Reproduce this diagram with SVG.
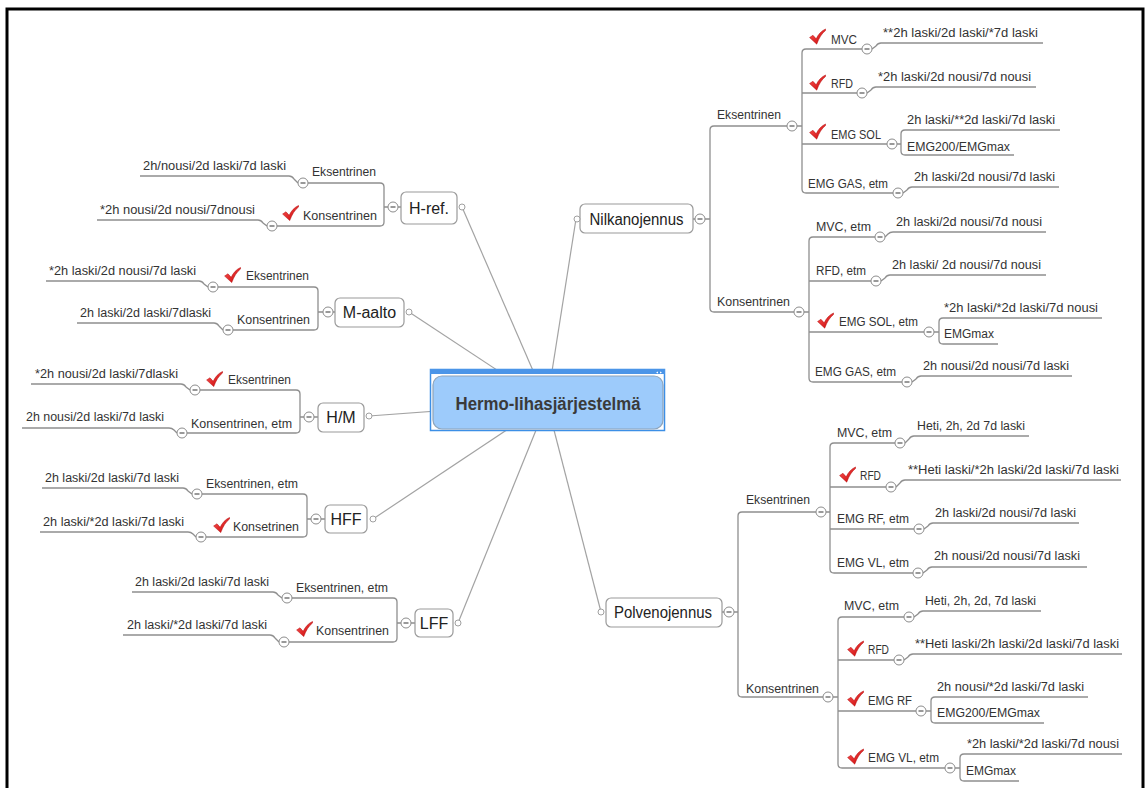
<svg xmlns="http://www.w3.org/2000/svg" width="1147" height="788" viewBox="0 0 1147 788">
<style>
.t{font-family:"Liberation Sans",Arial,sans-serif;font-size:12.5px;fill:#333}
.tm{font-family:"Liberation Sans",Arial,sans-serif;font-size:16px;fill:#222;text-anchor:middle}
.tc{font-family:"Liberation Sans",Arial,sans-serif;font-size:18px;font-weight:bold;fill:#3a3a3a;text-anchor:middle}
.ln{fill:none;stroke:#a3a3a3;stroke-width:1.2}
.ul{fill:none;stroke:#8f8f8f;stroke-width:1.3}
.box{fill:#fff;stroke:#9a9a9a;stroke-width:1.2}
.dot{fill:#fff;stroke:#a0a0a0;stroke-width:1}
</style>
<defs>
<linearGradient id="rg" x1="0" y1="0" x2="1" y2="1"><stop offset="0" stop-color="#ff5a5a"/><stop offset="1" stop-color="#c40000"/></linearGradient>
<symbol id="ck" viewBox="0 0 18 17"><path d="M0.6,9.6 L4.2,7.2 L7.6,11 C9.6,6.4 13,2.6 17.5,0.5 L17.5,2.2 C13.6,5.2 10.6,10 8.2,16.6 Z" fill="url(#rg)" stroke="#b00000" stroke-width="0.5"/></symbol>
<g id="mn"><circle r="5" fill="#fff" stroke="#8c8c8c" stroke-width="1"/><line x1="-2.5" y1="0" x2="2.5" y2="0" stroke="#555" stroke-width="1.2"/></g>
</defs>
<rect x="0" y="0" width="1147" height="788" fill="#fff"/>
<rect x="7" y="9" width="1136" height="800" fill="none" stroke="#000" stroke-width="3"/>

<g id="connectors">
<line class="ln" x1="462" y1="207" x2="547" y2="403"/>
<line class="ln" x1="409" y1="312" x2="547" y2="403"/>
<line class="ln" x1="369" y1="416" x2="547" y2="403"/>
<line class="ln" x1="373" y1="519" x2="547" y2="403"/>
<line class="ln" x1="458" y1="623" x2="547" y2="403"/>
<line class="ln" x1="576" y1="219" x2="547" y2="403"/>
<line class="ln" x1="601" y1="612" x2="547" y2="403"/>
<path class="ul" d="M308,183 H380 Q384,183 384,187 V222 Q384,226 380,226 H277 M384,207 H388 M398,207 H401"/>
<path class="ul" d="M218,287 H314 Q318,287 318,291 V326 Q318,330 314,330 H233 M318,312 H323 M333,312 H335"/>
<path class="ul" d="M200,390 H296 Q300,390 300,394 V429 Q300,433 296,433 H187 M300,417 H304 M314,417 H318"/>
<path class="ul" d="M202,494 H303 Q307,494 307,498 V533 Q307,537 303,537 H206 M307,519 H311 M321,519 H325"/>
<path class="ul" d="M292,598 H393 Q397,598 397,602 V638 Q397,642 393,642 H289 M397,623 H401 M411,623 H415"/>
<path class="ul" d="M298,183 L294,179 Q292,176 289,176 H140"/>
<path class="ul" d="M267,226 L263,223 Q261,220 258,220 H97"/>
<path class="ul" d="M208,287 L204,284 Q202,281 199,281 H46"/>
<path class="ul" d="M223,330 L219,326 Q217,323 214,323 H77"/>
<path class="ul" d="M190,390 L186,387 Q184,384 181,384 H31"/>
<path class="ul" d="M177,433 L174,430 Q172,428 169,428 H22"/>
<path class="ul" d="M192,494 L188,491 Q186,488 183,488 H42"/>
<path class="ul" d="M196,537 L193,534 Q191,532 188,532 H40"/>
<path class="ul" d="M282,598 L278,595 Q276,592 273,592 H132"/>
<path class="ul" d="M279,642 L275,638 Q273,635 270,635 H123"/>
<path class="ul" d="M787,126 H714 Q710,126 710,130 V308 Q710,312 714,312 H794 M705,219 H710 M693,219 H695"/>
<path class="ul" d="M862,49 H806 Q802,49 802,53 V189 Q802,193 806,193 H893 M802,93 H857 M802,144 H887 M797,126 H802"/>
<path class="ul" d="M1060,130 H905 Q901,130 901,134 V151 Q901,155 905,155 H1014 M897,144 H901"/>
<path class="ul" d="M875,237 H813 Q809,237 809,241 V378 Q809,382 813,382 H902 M809,281 H871 M809,332 H924 M804,312 H809"/>
<path class="ul" d="M1102,318 H943 Q939,318 939,322 V340 Q939,344 943,344 H998 M934,332 H939"/>
<path class="ul" d="M872,49 L876,46 Q878,43 881,43 H1043"/>
<path class="ul" d="M867,93 L871,90 Q873,87 876,87 H1036"/>
<path class="ul" d="M903,193 L907,190 Q909,187 912,187 H1059"/>
<path class="ul" d="M885,237 L888,234 Q890,232 893,232 H1046"/>
<path class="ul" d="M881,281 L885,278 Q887,275 890,275 H1046"/>
<path class="ul" d="M912,382 L916,379 Q918,376 921,376 H1072"/>
<path class="ul" d="M816,512 H742 Q738,512 738,516 V693 Q738,697 742,697 H823 M734,612 H738 M722,612 H724"/>
<path class="ul" d="M895,443 H834 Q830,443 830,447 V569 Q830,573 834,573 H913 M830,487 H886 M830,529 H914 M826,512 H830"/>
<path class="ul" d="M904,617 H842 Q838,617 838,621 V764 Q838,768 842,768 H945 M838,660 H894 M838,711 H916 M833,697 H838"/>
<path class="ul" d="M1088,697 H935 Q931,697 931,701 V719 Q931,723 935,723 H1044 M926,711 H931"/>
<path class="ul" d="M1122,754 H964 Q960,754 960,758 V777 Q960,781 964,781 H1019 M955,768 H960"/>
<path class="ul" d="M905,443 L909,439 Q911,436 914,436 H1029"/>
<path class="ul" d="M896,487 L900,483 Q902,480 905,480 H1121"/>
<path class="ul" d="M924,529 L928,526 Q930,523 933,523 H1079"/>
<path class="ul" d="M923,573 L927,570 Q929,567 932,567 H1087"/>
<path class="ul" d="M914,617 L918,614 Q920,611 923,611 H1041"/>
<path class="ul" d="M904,660 L908,657 Q910,654 913,654 H1122"/>
</g>

<g id="center">
<rect x="430.5" y="369.5" width="234" height="61" fill="#fff" stroke="#3c8fe6" stroke-width="1.5"/>
<rect x="430" y="369" width="235" height="5" fill="#4b95e8"/>
<path d="M658,371.5 L656,372.5 L658,373.5 Z M660,371.5 L662,372.5 L660,373.5 Z" fill="#fff"/>
<rect x="433" y="376" width="230" height="53" rx="9" fill="#9dcbfb" stroke="#8ea4ba" stroke-width="1.2"/>
<text class="tc" x="548" y="410" textLength="185" lengthAdjust="spacingAndGlyphs">Hermo-lihasjärjestelmä</text>
</g>

<g id="href">
<rect class="box" x="401" y="192" width="56" height="32" rx="5"/>
<text class="tm" x="429" y="214">H-ref.</text>
<circle class="dot" cx="462" cy="207" r="3"/>
<use href="#mn" x="393" y="207"/>
</g>
<g id="href-eks"><text class="t" x="312" y="176" textLength="64" lengthAdjust="spacingAndGlyphs">Eksentrinen</text><use href="#mn" x="303" y="183"/></g>
<g id="href-eks-1"><text class="t" x="143" y="170" textLength="143" lengthAdjust="spacingAndGlyphs">2h/nousi/2d laski/7d laski</text></g>
<g id="href-kon"><use href="#ck" x="282" y="205" width="17" height="16"/><text class="t" x="303" y="220" textLength="74" lengthAdjust="spacingAndGlyphs">Konsentrinen</text><use href="#mn" x="272" y="226"/></g>
<g id="href-kon-1"><text class="t" x="100" y="214" textLength="155" lengthAdjust="spacingAndGlyphs">*2h nousi/2d nousi/7dnousi</text></g>

<g id="maalto">
<rect class="box" x="335" y="298" width="69" height="29" rx="5"/>
<text class="tm" x="369.5" y="318">M-aalto</text>
<circle class="dot" cx="409" cy="312" r="3"/>
<use href="#mn" x="328" y="312"/>
</g>
<g id="maalto-eks"><use href="#ck" x="224" y="267" width="17" height="16"/><text class="t" x="246" y="280" textLength="63" lengthAdjust="spacingAndGlyphs">Eksentrinen</text><use href="#mn" x="213" y="287"/></g>
<g id="maalto-eks-1"><text class="t" x="49" y="275" textLength="147" lengthAdjust="spacingAndGlyphs">*2h laski/2d nousi/7d laski</text></g>
<g id="maalto-kon"><text class="t" x="237" y="324" textLength="73" lengthAdjust="spacingAndGlyphs">Konsentrinen</text><use href="#mn" x="228" y="330"/></g>
<g id="maalto-kon-1"><text class="t" x="80" y="317" textLength="131" lengthAdjust="spacingAndGlyphs">2h laski/2d laski/7dlaski</text></g>

<g id="hm">
<rect class="box" x="318" y="403" width="46" height="29" rx="5"/>
<text class="tm" x="341" y="423">H/M</text>
<circle class="dot" cx="369" cy="416" r="3"/>
<use href="#mn" x="309" y="417"/>
</g>
<g id="hm-eks"><use href="#ck" x="206" y="371" width="17" height="16"/><text class="t" x="228" y="384" textLength="63" lengthAdjust="spacingAndGlyphs">Eksentrinen</text><use href="#mn" x="195" y="390"/></g>
<g id="hm-eks-1"><text class="t" x="35" y="378" textLength="143" lengthAdjust="spacingAndGlyphs">*2h nousi/2d laski/7dlaski</text></g>
<g id="hm-kon"><text class="t" x="191" y="428" textLength="101" lengthAdjust="spacingAndGlyphs">Konsentrinen, etm</text><use href="#mn" x="182" y="433"/></g>
<g id="hm-kon-1"><text class="t" x="26" y="421" textLength="138" lengthAdjust="spacingAndGlyphs">2h nousi/2d laski/7d laski</text></g>

<g id="hff">
<rect class="box" x="325" y="505" width="42" height="28" rx="5"/>
<text class="tm" x="346" y="525">HFF</text>
<circle class="dot" cx="373" cy="519" r="3"/>
<use href="#mn" x="316" y="519"/>
</g>
<g id="hff-eks"><text class="t" x="206" y="488" textLength="92" lengthAdjust="spacingAndGlyphs">Eksentrinen, etm</text><use href="#mn" x="197" y="494"/></g>
<g id="hff-eks-1"><text class="t" x="45" y="482" textLength="134" lengthAdjust="spacingAndGlyphs">2h laski/2d laski/7d laski</text></g>
<g id="hff-kon"><use href="#ck" x="213" y="517" width="17" height="16"/><text class="t" x="233" y="531" textLength="66" lengthAdjust="spacingAndGlyphs">Konsetrinen</text><use href="#mn" x="201" y="537"/></g>
<g id="hff-kon-1"><text class="t" x="43" y="526" textLength="141" lengthAdjust="spacingAndGlyphs">2h laski/*2d laski/7d laski</text></g>

<g id="lff">
<rect class="box" x="415" y="609" width="38" height="28" rx="5"/>
<text class="tm" x="434" y="629">LFF</text>
<circle class="dot" cx="458" cy="623" r="3"/>
<use href="#mn" x="406" y="623"/>
</g>
<g id="lff-eks"><text class="t" x="296" y="592" textLength="92" lengthAdjust="spacingAndGlyphs">Eksentrinen, etm</text><use href="#mn" x="287" y="598"/></g>
<g id="lff-eks-1"><text class="t" x="135" y="586" textLength="134" lengthAdjust="spacingAndGlyphs">2h laski/2d laski/7d laski</text></g>
<g id="lff-kon"><use href="#ck" x="296" y="621" width="17" height="16"/><text class="t" x="316" y="635" textLength="73" lengthAdjust="spacingAndGlyphs">Konsentrinen</text><use href="#mn" x="284" y="642"/></g>
<g id="lff-kon-1"><text class="t" x="127" y="629" textLength="140" lengthAdjust="spacingAndGlyphs">2h laski/*2d laski/7d laski</text></g>

<g id="nilka">
<rect class="box" x="580" y="204" width="113" height="29" rx="5"/>
<text class="tm" x="636.5" y="225" textLength="94" lengthAdjust="spacingAndGlyphs">Nilkanojennus</text>
<circle class="dot" cx="577" cy="219" r="3"/>
<use href="#mn" x="700" y="219"/>
</g>
<g id="n-eks"><text class="t" x="717" y="119" textLength="64" lengthAdjust="spacingAndGlyphs">Eksentrinen</text><use href="#mn" x="792" y="126"/></g>
<g id="n-eks-mvc"><use href="#ck" x="809" y="28" width="17" height="17"/><text class="t" x="831" y="44" textLength="26" lengthAdjust="spacingAndGlyphs">MVC</text><use href="#mn" x="867" y="49"/></g>
<g id="n-eks-mvc-1"><text class="t" x="883" y="37" textLength="155" lengthAdjust="spacingAndGlyphs">**2h laski/2d laski/*7d laski</text></g>
<g id="n-eks-rfd"><use href="#ck" x="809" y="74" width="17" height="17"/><text class="t" x="831" y="88" textLength="22" lengthAdjust="spacingAndGlyphs">RFD</text><use href="#mn" x="862" y="93"/></g>
<g id="n-eks-rfd-1"><text class="t" x="878" y="81" textLength="153" lengthAdjust="spacingAndGlyphs">*2h laski/2d nousi/7d nousi</text></g>
<g id="n-eks-sol"><use href="#ck" x="809" y="123" width="17" height="17"/><text class="t" x="831" y="139" textLength="50" lengthAdjust="spacingAndGlyphs">EMG SOL</text><use href="#mn" x="892" y="144"/></g>
<g id="n-eks-sol-1"><text class="t" x="907" y="124" textLength="148" lengthAdjust="spacingAndGlyphs">2h laski/**2d laski/7d laski</text></g>
<g id="n-eks-sol-2"><text class="t" x="907" y="151" textLength="103" lengthAdjust="spacingAndGlyphs">EMG200/EMGmax</text></g>
<g id="n-eks-gas"><text class="t" x="808" y="188" textLength="80" lengthAdjust="spacingAndGlyphs">EMG GAS, etm</text><use href="#mn" x="898" y="193"/></g>
<g id="n-eks-gas-1"><text class="t" x="914" y="181" textLength="141" lengthAdjust="spacingAndGlyphs">2h laski/2d nousi/7d laski</text></g>
<g id="n-kon"><text class="t" x="717" y="306" textLength="73" lengthAdjust="spacingAndGlyphs">Konsentrinen</text><use href="#mn" x="799" y="312"/></g>
<g id="n-kon-mvc"><text class="t" x="816" y="231" textLength="55" lengthAdjust="spacingAndGlyphs">MVC, etm</text><use href="#mn" x="880" y="237"/></g>
<g id="n-kon-mvc-1"><text class="t" x="896" y="226" textLength="146" lengthAdjust="spacingAndGlyphs">2h laski/2d nousi/7d nousi</text></g>
<g id="n-kon-rfd"><text class="t" x="816" y="275" textLength="50" lengthAdjust="spacingAndGlyphs">RFD, etm</text><use href="#mn" x="876" y="281"/></g>
<g id="n-kon-rfd-1"><text class="t" x="892" y="269" textLength="149" lengthAdjust="spacingAndGlyphs">2h laski/ 2d nousi/7d nousi</text></g>
<g id="n-kon-sol"><use href="#ck" x="817" y="312" width="17" height="17"/><text class="t" x="839" y="326" textLength="79" lengthAdjust="spacingAndGlyphs">EMG SOL, etm</text><use href="#mn" x="929" y="332"/></g>
<g id="n-kon-sol-1"><text class="t" x="944" y="312" textLength="154" lengthAdjust="spacingAndGlyphs">*2h laski/*2d laski/7d nousi</text></g>
<g id="n-kon-sol-2"><text class="t" x="944" y="338" textLength="50" lengthAdjust="spacingAndGlyphs">EMGmax</text></g>
<g id="n-kon-gas"><text class="t" x="815" y="376" textLength="81" lengthAdjust="spacingAndGlyphs">EMG GAS, etm</text><use href="#mn" x="907" y="382"/></g>
<g id="n-kon-gas-1"><text class="t" x="923" y="370" textLength="146" lengthAdjust="spacingAndGlyphs">2h nousi/2d nousi/7d laski</text></g>

<g id="polve">
<rect class="box" x="606" y="598" width="116" height="29" rx="5"/>
<text class="tm" x="663" y="618" textLength="98" lengthAdjust="spacingAndGlyphs">Polvenojennus</text>
<circle class="dot" cx="601" cy="612" r="3"/>
<use href="#mn" x="729" y="612"/>
</g>
<g id="p-eks"><text class="t" x="746" y="504" textLength="64" lengthAdjust="spacingAndGlyphs">Eksentrinen</text><use href="#mn" x="821" y="512"/></g>
<g id="p-eks-mvc"><text class="t" x="837" y="437" textLength="55" lengthAdjust="spacingAndGlyphs">MVC, etm</text><use href="#mn" x="900" y="443"/></g>
<g id="p-eks-mvc-1"><text class="t" x="917" y="430" textLength="108" lengthAdjust="spacingAndGlyphs">Heti, 2h, 2d 7d laski</text></g>
<g id="p-eks-rfd"><use href="#ck" x="839" y="466" width="17" height="17"/><text class="t" x="860" y="480" textLength="21" lengthAdjust="spacingAndGlyphs">RFD</text><use href="#mn" x="891" y="487"/></g>
<g id="p-eks-rfd-1"><text class="t" x="908" y="474" textLength="211" lengthAdjust="spacingAndGlyphs">**Heti laski/*2h laski/2d laski/7d laski</text></g>
<g id="p-eks-rf"><text class="t" x="837" y="523" textLength="72" lengthAdjust="spacingAndGlyphs">EMG RF, etm</text><use href="#mn" x="919" y="529"/></g>
<g id="p-eks-rf-1"><text class="t" x="935" y="517" textLength="141" lengthAdjust="spacingAndGlyphs">2h laski/2d nousi/7d laski</text></g>
<g id="p-eks-vl"><text class="t" x="837" y="567" textLength="72" lengthAdjust="spacingAndGlyphs">EMG VL, etm</text><use href="#mn" x="918" y="573"/></g>
<g id="p-eks-vl-1"><text class="t" x="934" y="560" textLength="146" lengthAdjust="spacingAndGlyphs">2h nousi/2d nousi/7d laski</text></g>
<g id="p-kon"><text class="t" x="746" y="693" textLength="73" lengthAdjust="spacingAndGlyphs">Konsentrinen</text><use href="#mn" x="828" y="697"/></g>
<g id="p-kon-mvc"><text class="t" x="844" y="610" textLength="55" lengthAdjust="spacingAndGlyphs">MVC, etm</text><use href="#mn" x="909" y="617"/></g>
<g id="p-kon-mvc-1"><text class="t" x="925" y="605" textLength="111" lengthAdjust="spacingAndGlyphs">Heti, 2h, 2d, 7d laski</text></g>
<g id="p-kon-rfd"><use href="#ck" x="847" y="640" width="17" height="17"/><text class="t" x="868" y="654" textLength="21" lengthAdjust="spacingAndGlyphs">RFD</text><use href="#mn" x="899" y="660"/></g>
<g id="p-kon-rfd-1"><text class="t" x="915" y="648" textLength="204" lengthAdjust="spacingAndGlyphs">**Heti laski/2h laski/2d laski/7d laski</text></g>
<g id="p-kon-rf"><use href="#ck" x="847" y="690" width="17" height="17"/><text class="t" x="868" y="705" textLength="44" lengthAdjust="spacingAndGlyphs">EMG RF</text><use href="#mn" x="921" y="711"/></g>
<g id="p-kon-rf-1"><text class="t" x="937" y="691" textLength="147" lengthAdjust="spacingAndGlyphs">2h nousi/*2d laski/7d laski</text></g>
<g id="p-kon-rf-2"><text class="t" x="937" y="717" textLength="103" lengthAdjust="spacingAndGlyphs">EMG200/EMGmax</text></g>
<g id="p-kon-vl"><use href="#ck" x="847" y="748" width="17" height="17"/><text class="t" x="868" y="762" textLength="71" lengthAdjust="spacingAndGlyphs">EMG VL, etm</text><use href="#mn" x="950" y="768"/></g>
<g id="p-kon-vl-1"><text class="t" x="967" y="748" textLength="152" lengthAdjust="spacingAndGlyphs">*2h laski/*2d laski/7d nousi</text></g>
<g id="p-kon-vl-2"><text class="t" x="966" y="775" textLength="50" lengthAdjust="spacingAndGlyphs">EMGmax</text></g>
</svg>
